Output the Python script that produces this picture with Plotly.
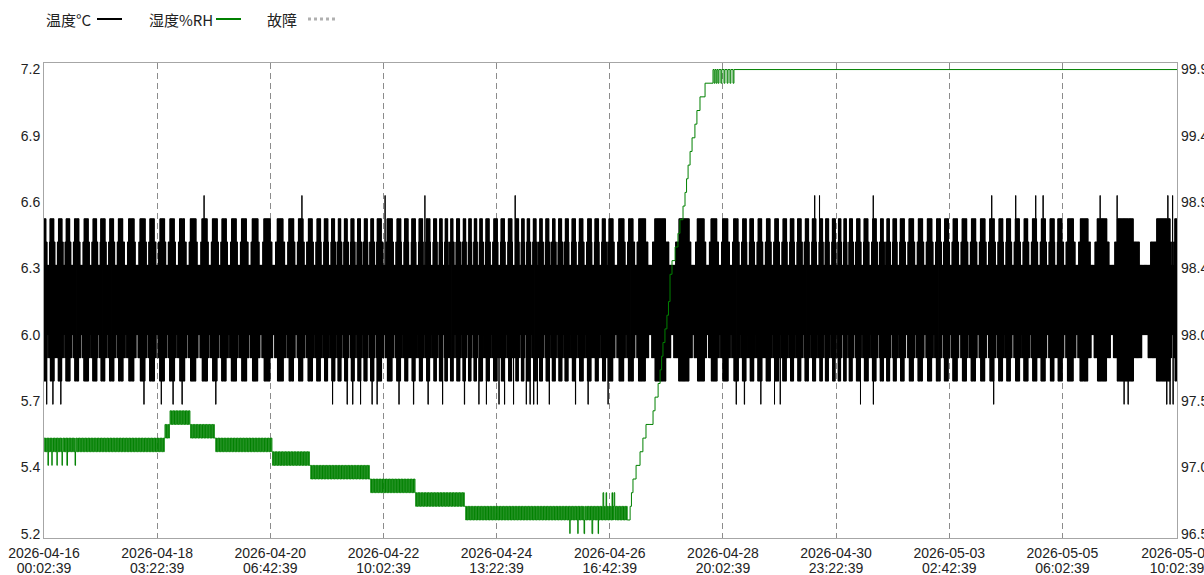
import pandas as pd
import plotly.graph_objects as go

# ---------------- data ----------------
start_time = "2026-04-16 00:02:39"
end_time = "2026-05-07 10:02:39"

x_tick_times = ["2026-04-16 00:02:39", "2026-04-18 03:22:39", "2026-04-20 06:42:39",
                "2026-04-22 10:02:39", "2026-04-24 13:22:39", "2026-04-26 16:42:39",
                "2026-04-28 20:02:39", "2026-04-30 23:22:39", "2026-05-03 02:42:39",
                "2026-05-05 06:02:39", "2026-05-07 10:02:00"]
x_tick_dates = ["2026-04-16", "2026-04-18", "2026-04-20", "2026-04-22", "2026-04-24",
                "2026-04-26", "2026-04-28", "2026-04-30", "2026-05-03", "2026-05-05",
                "2026-05-07"]
x_tick_clock = ["00:02:39", "03:22:39", "06:42:39", "10:02:39", "13:22:39", "16:42:39",
                "20:02:39", "23:22:39", "02:42:39", "06:02:39", "10:02:39"]

temp_tick_vals = [5.1429, 5.4286, 5.7143, 6.0, 6.2857, 6.5714, 6.8571, 7.1429]
temp_tick_text = ["5.2", "5.4", "5.7", "6.0", "6.3", "6.6", "6.9", "7.2"]
hum_tick_vals = [96.5, 96.986, 97.471, 97.957, 98.443, 98.929, 99.414, 99.9]
hum_tick_text = ["96.5", "97.0", "97.5", "98.0", "98.4", "98.9", "99.4", "99.9"]

# temperature: hours (from start) at which each oscillation burst peaks
temp_peak_hours = [0.0, 3.6, 7.3, 10.8, 14.7, 19.2, 23.0, 26.6, 30.7, 34.6, 39.5, 44.8, 48.9,
                   53.6, 58.0, 62.6, 67.6, 72.9, 77.5, 81.6, 86.1, 90.7, 95.7, 101.0, 107.3,
                   112.2, 116.4, 120.8, 124.6, 127.9, 131.2, 134.0, 137.0, 140.0, 143.0, 145.8,
                   148.9, 151.9, 156.9, 161.0, 164.3, 167.6, 170.9, 174.2, 177.5, 180.0, 182.5,
                   184.9, 187.9, 190.7, 193.2, 195.7, 198.2, 201.1, 204.8, 208.1, 211.4, 214.7,
                   217.2, 219.7, 222.6, 225.4, 228.4, 231.2, 234.2, 237.0, 240.3, 243.6, 247.4,
                   250.7, 254.0, 256.8, 262.0, 266.1, 270.8, 279.1, 290.8, 298.1, 304.1, 309.1,
                   314.0, 317.7, 321.0, 324.7, 328.5, 332.3, 336.0, 339.3, 342.6, 346.0, 349.3,
                   352.6, 355.1, 358.4, 360.9, 363.4, 365.9, 369.3, 372.9, 376.7, 380.1, 382.9,
                   385.9, 389.2, 393.4, 397.5, 401.7, 405.8, 409.2, 413.3, 417.5, 421.6, 425.8,
                   430.0, 434.1, 437.4, 441.6, 445.4, 449.4, 453.2, 457.4, 460.7, 465.4, 471.5,
                   479.8, 489.0, 509.8, 514.0]
# readings across one burst (upper and lower readings alternate)
temp_cycle_upper = [6.5, 6.5, 6.5, 6.5, 6.4, 6.4, 6.3, 6.3, 6.3, 6.3, 6.4, 6.4, 6.5, 6.5, 6.5, 6.5]
temp_cycle_lower = [5.8, 5.8, 5.8, 5.8, 5.9, 5.9, 5.9, 6.0, 6.0, 5.9, 5.9, 5.9, 5.8, 5.8, 5.8, 5.8]
temp_spike_up_hours = [72.6, 117.0, 154.7, 172.8, 213.7, 349.6, 351.8, 376.2, 429.9, 440.8,
                       449.9, 453.2, 479.1, 486.8, 509.8, 512.0]
temp_spike_up_value = 6.6
temp_spike_down_hours = [1.2, 4.0, 7.6, 45.3, 53.2, 58.5, 62.6, 77.9, 130.9, 137.5, 140.0,
                         143.6, 148.8, 151.1, 161.0, 167.6, 174.2, 180.8, 190.7, 197.3, 200.7,
                         206.4, 208.9, 213.0, 218.8, 220.5, 222.1, 223.8, 229.2, 241.1, 246.8,
                         255.9, 314.0, 317.7, 325.2, 331.4, 334.0, 370.4, 376.2, 430.8, 490.0,
                         491.8, 509.3, 510.8, 512.2]
temp_spike_down_value = 5.7
temp_samples_per_hour = 8.0

# humidity: slowly-stepping level with jitter between two adjacent readings
hum_band_start_h = [0.0, 54.9, 57.2, 66.2, 77.6, 103.4, 120.7, 147.9, 168.3, 191.0]
hum_band_end_h = [54.9, 57.2, 66.2, 77.6, 103.4, 120.7, 147.9, 168.3, 191.0, 264.9]
hum_band_hi = [97.2, 97.3, 97.4, 97.3, 97.2, 97.1, 97.0, 96.9, 96.8, 96.7]
hum_band_lo = [97.1, 97.2, 97.3, 97.2, 97.1, 97.0, 96.9, 96.8, 96.7, 96.6]
hum_extra_h = [1.8, 3.6, 5.9, 8.2, 10.4, 14.1, 238.6, 242.2, 245.0, 248.6, 251.4,
               253.6, 255.0, 257.7, 258.6]
hum_extra_v = [97.0, 97.0, 97.0, 97.0, 97.0, 97.0, 96.5, 96.5, 96.5, 96.5, 96.5,
               96.8, 96.8, 96.8, 96.8]
hum_rise_h = [264.9, 265.9, 266.5, 267.2, 268.6, 270.4, 271.7, 273.1, 274.9, 276.3, 277.2,
              278.6, 279.5, 280.2, 280.8, 281.7, 282.6, 283.3, 284.0, 284.9, 286.3, 287.6,
              288.5, 289.9, 290.8, 291.5, 292.2, 293.1, 294.0, 295.3, 296.2, 297.6, 299.9,
              303.5, 304.0, 304.4, 304.9, 305.3, 305.8, 306.2, 307.1, 307.5, 308.5, 308.9,
              309.9, 310.3, 311.2, 311.6, 312.6, 313.0, 514.0]
hum_rise_v = [96.6, 96.7, 96.8, 96.9, 97.0, 97.1, 97.2, 97.3, 97.3, 97.4, 97.5,
              97.6, 97.7, 97.8, 97.9, 98.0, 98.1, 98.2, 98.4, 98.5, 98.6, 98.7,
              98.8, 98.9, 99.0, 99.1, 99.2, 99.3, 99.4, 99.5, 99.6, 99.7, 99.8,
              99.9, 99.8, 99.9, 99.8, 99.9, 99.8, 99.9, 99.8, 99.9, 99.8, 99.9,
              99.8, 99.9, 99.8, 99.9, 99.8, 99.9, 99.9]
hum_samples_per_hour = 3.0

# ---------------- build series ----------------
t0 = pd.Timestamp(start_time)

temp_h, temp_v = [], []
slots = len(temp_cycle_upper)
for a, b in zip(temp_peak_hours[:-1], temp_peak_hours[1:]):
    n = max(slots, int(round((b - a) * temp_samples_per_hour)))
    for j in range(n):
        k = min(slots - 1, int(j * slots / n))
        temp_h.append(a + (b - a) * j / n)
        temp_v.append(temp_cycle_upper[k] if j % 2 == 0 else temp_cycle_lower[k])
temp_h += temp_spike_up_hours + temp_spike_down_hours
temp_v += [temp_spike_up_value] * len(temp_spike_up_hours) + \
          [temp_spike_down_value] * len(temp_spike_down_hours)
temp_df = pd.DataFrame({"h": temp_h, "v": temp_v}).sort_values("h", kind="stable")
temp_df["t"] = t0 + pd.to_timedelta(temp_df["h"], unit="h")

hum_h, hum_v = [], []
for s, e, hi, lo in zip(hum_band_start_h, hum_band_end_h, hum_band_hi, hum_band_lo):
    n = max(2, int(round((e - s) * hum_samples_per_hour)))
    for j in range(n):
        hum_h.append(s + (e - s) * j / n)
        hum_v.append(hi if j % 2 == 0 else lo)
hum_h += hum_extra_h + hum_rise_h
hum_v += hum_extra_v + hum_rise_v
hum_df = pd.DataFrame({"h": hum_h, "v": hum_v}).sort_values("h", kind="stable")
hum_df["t"] = t0 + pd.to_timedelta(hum_df["h"], unit="h")

# ---------------- figure ----------------
grid_color = "#8c8c8c"
grid_dash = "6px,4px"
frame_color = "#a6a6a6"
tick_font = dict(family="Liberation Sans, Arial, sans-serif", size=14, color="#222222")

fig = go.Figure()
fig.add_trace(go.Scatter(x=temp_df["t"], y=temp_df["v"], mode="lines",
                         line=dict(color="#000000", width=1, shape="hv", simplify=False),
                         name="温度°C", yaxis="y", showlegend=False, hoverinfo="skip"))
fig.add_trace(go.Scatter(x=hum_df["t"], y=hum_df["v"], mode="lines",
                         line=dict(color="#008000", width=1, shape="hv", simplify=False),
                         name="湿度%RH", yaxis="y2", showlegend=False, hoverinfo="skip"))
# empty trace so the second (clock-time) tick row is drawn
fig.add_trace(go.Scatter(x=[start_time, end_time], y=[None, None], mode="lines",
                         xaxis="x2", yaxis="y", showlegend=False, hoverinfo="skip",
                         name="故障"))

temp_range = [5.124, 7.171]
fig.update_layout(
    width=1204, height=575,
    margin=dict(l=44, r=27, t=63, b=37, autoexpand=False),
    paper_bgcolor="white", plot_bgcolor="white",
    showlegend=False,
    xaxis=dict(type="date", range=[start_time, end_time], automargin=False,
               tickmode="array", tickvals=x_tick_times, ticktext=x_tick_dates,
               showgrid=True, gridcolor=grid_color, griddash=grid_dash, gridwidth=1,
               showline=True, mirror=True, linecolor=frame_color, linewidth=1,
               zeroline=False, ticks="", tickfont=tick_font, ticklabelstandoff=2,
               ticklabeloverflow="allow"),
    xaxis2=dict(type="date", range=[start_time, end_time], automargin=False,
                overlaying="x", side="bottom", anchor="y",
                tickmode="array", tickvals=x_tick_times, ticktext=x_tick_clock,
                showgrid=False, showline=False, zeroline=False, ticks="",
                tickfont=tick_font, ticklabelstandoff=20, ticklabeloverflow="allow"),
    yaxis=dict(range=temp_range, tickmode="array", tickvals=temp_tick_vals,
               ticktext=temp_tick_text, showgrid=False, zeroline=False, automargin=False,
               showline=True, mirror=True, linecolor=frame_color, linewidth=1,
               ticks="", tickfont=tick_font),
    yaxis2=dict(range=[96.468, 99.948], overlaying="y", side="right", automargin=False,
                tickmode="array", tickvals=hum_tick_vals, ticktext=hum_tick_text,
                showgrid=False, zeroline=False, showline=False, ticks="",
                ticklabelstandoff=3, tickfont=tick_font, ticklabeloverflow="allow"),
    yaxis3=dict(range=temp_range, overlaying="y", tickmode="array", automargin=False,
                tickvals=temp_tick_vals[1:-1], showticklabels=False,
                showgrid=True, gridcolor=grid_color, griddash=grid_dash, gridwidth=1,
                zeroline=False, showline=False, ticks=""),
)

# custom legend (label text first, then line sample)
W, H = 1133.0, 475.0
def px(x):
    return (x - 44) / W
def py(y):
    return (538 - y) / H

legend_items = [("温度°C", 46, 97, 122, "#000000", "solid", 2),
                ("湿度%RH", 149, 216, 241, "#008000", "solid", 2),
                ("故障", 267, 308, 338, "#b0b0b0", "dot", 3)]
for label, tx, lx0, lx1, col, dash, w in legend_items:
    fig.add_annotation(x=px(tx), y=py(19), xref="paper", yref="paper", text=label,
                       showarrow=False, xanchor="left", yanchor="middle", xshift=-2,
                       font=dict(family="Noto Sans CJK SC, Liberation Sans, sans-serif",
                                 size=15, color="#222222"))
    fig.add_shape(type="line", xref="paper", yref="paper", x0=px(lx0), x1=px(lx1),
                  y0=py(19), y1=py(19), line=dict(color=col, width=w, dash=dash))

fig.write_html("out.html", config={"displayModeBar": False},
               post_script="document.body.style.margin='0';document.body.style.overflow='hidden';")
